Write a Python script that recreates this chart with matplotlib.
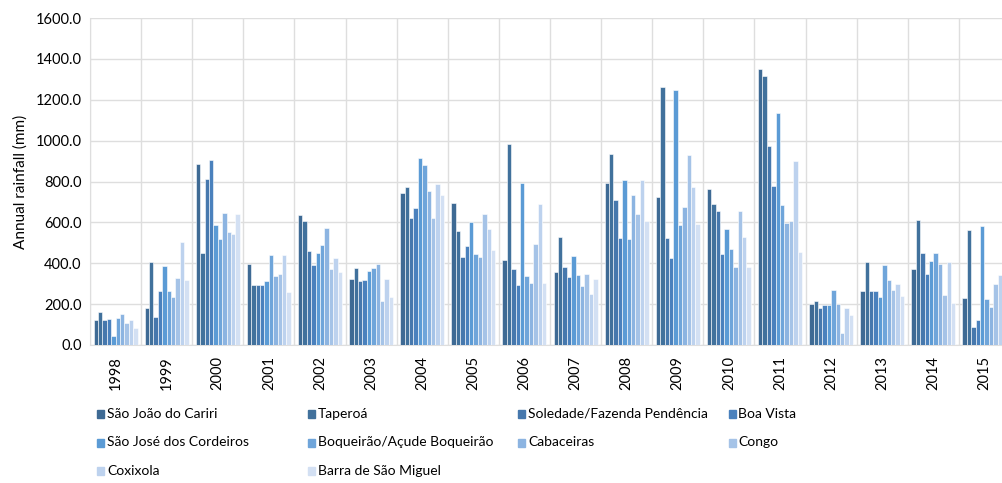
import matplotlib.pyplot as plt
import numpy as np
from matplotlib.patches import Rectangle

plt.rcParams['font.family'] = ['Lato', 'DejaVu Sans']

years = [str(y) for y in range(1998, 2016)]
stations = ['São João do Cariri', 'Taperoá', 'Soledade/Fazenda Pendência', 'Boa Vista',
            'São José dos Cordeiros', 'Boqueirão/Açude Boqueirão', 'Cabaceiras', 'Congo',
            'Coxixola', 'Barra de São Miguel']
colors = ['#3E6A94', '#41719C', '#4678AD', '#4A81BD', '#5B9BD5',
          '#6FA5DA', '#8CB4E1', '#A5C3E7', '#BDD2EE', '#D3E0F3']

# annual rainfall (mm), one list per station, 1998..2015
sao_joao_do_cariri = [122, 182, 885, 395, 638, 321, 743, 697, 417, 357, 795, 725, 762, 1351, 201, 265, 373, 231]
taperoa            = [163, 406, 450, 293, 607, 375, 771, 560, 985, 530, 936, 1260, 689, 1317, 214, 407, 610, 563]
soledade           = [121, 138, 810, 295, 461, 314, 622, 432, 370, 380, 708, 525, 658, 972, 179, 265, 450, 90]
boa_vista          = [126, 262, 905, 295, 390, 319, 671, 483, 295, 331, 524, 427, 443, 780, 198, 265, 349, 124]
sao_jose           = [43, 385, 586, 311, 450, 362, 916, 602, 795, 437, 808, 1247, 568, 1135, 198, 236, 411, 581]
boqueirao          = [131, 262, 519, 442, 491, 375, 882, 447, 339, 342, 519, 587, 468, 687, 270, 393, 450, 225]
cabaceiras         = [152, 236, 646, 337, 573, 398, 754, 432, 305, 287, 735, 676, 380, 595, 201, 316, 395, 188]
congo              = [108, 329, 551, 349, 370, 215, 620, 640, 496, 345, 643, 931, 658, 609, 59, 267, 247, 300]
coxixola           = [120, 502, 545, 440, 425, 324, 787, 568, 689, 249, 808, 772, 528, 900, 180, 300, 404, 341]
barra              = [85, 316, 643, 257, 359, 234, 735, 465, 301, 321, 605, 594, 380, 457, 149, 241, 205, 250]

series = [sao_joao_do_cariri, taperoa, soledade, boa_vista, sao_jose,
          boqueirao, cabaceiras, congo, coxixola, barra]

fig = plt.figure(figsize=(10.02, 4.83), dpi=100)
ax = fig.add_axes([90 / 1002, 1 - 345 / 483, 920 / 1002, 327 / 483])

x = np.arange(len(years))
n = len(series)
w = 0.086
for i, vals in enumerate(series):
    ax.bar(x + (i - (n - 1) / 2) * w, vals, width=w, color=colors[i],
           edgecolor='white', linewidth=0.4, zorder=3)

ax.set_xlim(-0.5, len(years) - 0.5)
ax.set_ylim(0, 1600)
ax.set_yticks(np.arange(0, 1601, 200))
ax.set_yticklabels([f'{v:.1f}' for v in np.arange(0, 1601, 200)], fontsize=10.5)
ax.set_xticks(x)
ax.set_xticklabels(years, rotation=90, fontsize=10.5)
ax.set_xticks(np.arange(-0.5, len(years), 1), minor=True)
ax.tick_params(which='both', length=0)
ax.tick_params(axis='x', pad=8)
ax.tick_params(axis='y', pad=6)
ax.grid(axis='y', color='#DEDEDE', linewidth=1, zorder=0)
ax.grid(axis='x', which='minor', color='#DEDEDE', linewidth=1, zorder=0)
for s in ['top', 'right']:
    ax.spines[s].set_visible(False)
for s in ['left', 'bottom']:
    ax.spines[s].set_color('#DEDEDE')
ax.set_ylabel('Annual rainfall (mm)', fontsize=11, labelpad=6)

# legend laid out in a fixed 4-column grid
for i, name in enumerate(stations):
    col, row = i % 4, i // 4
    px = 97 + col * 210.5
    py = 414 + row * 28.5
    fig.add_artist(Rectangle((px / 1002, 1 - (py + 4) / 483), 7 / 1002, 8 / 483,
                             transform=fig.transFigure, color=colors[i]))
    fig.text((px + 10) / 1002, 1 - py / 483, name, fontsize=10, va='center', ha='left')

fig.savefig('out.png', dpi=100)
